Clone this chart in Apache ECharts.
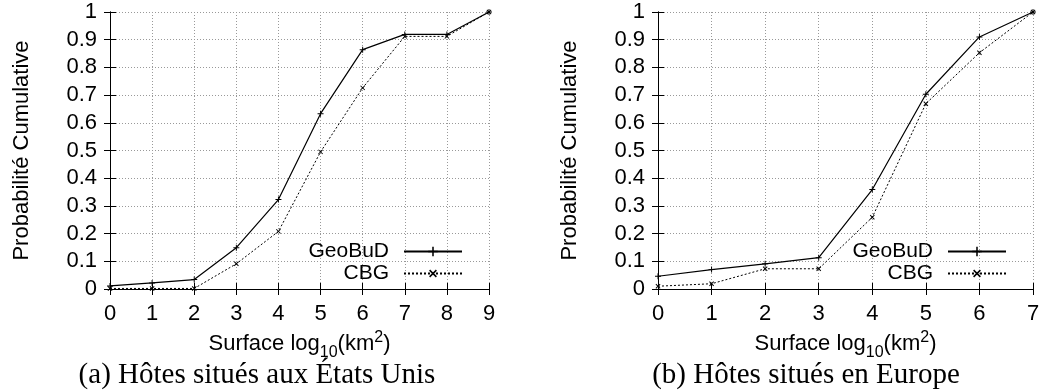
<!DOCTYPE html>
<html>
<head>
<meta charset="utf-8">
<script src="https://cdn.jsdelivr.net/npm/echarts@6/dist/echarts.min.js"></script>
<style>
  html, body { margin: 0; padding: 0; background: #fff; }
  #chart { width: 1049px; height: 392px; }
</style>
</head>
<body>
<div id="chart"></div>
<script>
// (a) USA
const xUS = [0, 1, 2, 3, 4, 5, 6, 7, 8, 9];
const geoUS = [0.011, 0.022, 0.034, 0.149, 0.323, 0.633, 0.864, 0.919, 0.919, 1];
const cbgUS = [0.002, 0.002, 0.002, 0.091, 0.208, 0.495, 0.726, 0.912, 0.912, 1];
// (b) Europe
const xEU = [0, 1, 2, 3, 4, 5, 6, 7];
const geoEU = [0.046, 0.070, 0.091, 0.113, 0.359, 0.703, 0.910, 1];
const cbgEU = [0.010, 0.019, 0.073, 0.073, 0.259, 0.669, 0.853, 1];

const yTicks = [0, 0.1, 0.2, 0.3, 0.4, 0.5, 0.6, 0.7, 0.8, 0.9, 1];
const captions = ["(a) Hôtes situés aux États Unis", "(b) Hôtes situés en Europe"];
const seriesNames = ["GeoBuD", "CBG"];

const FONT = "Liberation Sans";
const plusPath = "path://M0,4.2L10,4.2L10,5.8L0,5.8Z M4.2,0L5.8,0L5.8,10L4.2,10Z";

const myChart = echarts.init(document.getElementById("chart"));

const pairs = (xs, ys) => xs.map((x, i) => [x, ys[i]]);

const grids = [
  { left: 110, right: 560, top: 12, bottom: 103 },
  { left: 658, right: 16, top: 12, bottom: 103 },
];
const xMax = [xUS[xUS.length - 1], xEU[xEU.length - 1]];

const xAxes = [];
const yAxes = [];
grids.forEach((g, i) => {
  xAxes.push({
    type: "value",
    gridIndex: i,
    min: 0,
    max: xMax[i],
    interval: 1,
    name: "{n|Surface log}{sub|10}{n|(km}{sup|2}{n|)}",
    nameLocation: "middle",
    nameGap: 37,
    nameTextStyle: {
      rich: {
        n: { fontFamily: FONT, fontSize: 22, color: "#000", lineHeight: 34, verticalAlign: "middle" },
        sub: { fontFamily: FONT, fontSize: 16, color: "#000", verticalAlign: "bottom" },
        sup: { fontFamily: FONT, fontSize: 16, color: "#000", verticalAlign: "top", padding: [3, 0, 0, 0] },
      },
    },
    axisLine: { show: true, lineStyle: { color: "#000", width: 1 } },
    axisTick: { show: true, inside: true, length: 6, lineStyle: { color: "#000" } },
    axisLabel: { fontFamily: FONT, fontSize: 22, color: "#000", margin: 14 },
    splitLine: { show: true, lineStyle: { color: "#999", type: [1, 2], width: 1 } },
  });
  // mirrored top axis (ticks only)
  xAxes.push({
    type: "value",
    gridIndex: i,
    position: "top",
    min: 0,
    max: xMax[i],
    interval: 1,
    axisLine: { show: true, lineStyle: { color: "#000", width: 1 } },
    axisTick: { show: true, inside: true, length: 6, lineStyle: { color: "#000" } },
    axisLabel: { show: false },
    splitLine: { show: false },
  });
  yAxes.push({
    type: "value",
    gridIndex: i,
    min: 0,
    max: 1,
    interval: 0.1,
    name: "Probabilité Cumulative",
    nameLocation: "middle",
    nameRotate: 90,
    nameGap: 77,
    nameTextStyle: { fontFamily: FONT, fontSize: 22, color: "#000" },
    axisLine: { show: true, lineStyle: { color: "#000", width: 1 } },
    axisTick: { show: true, inside: true, length: 6, lineStyle: { color: "#000" } },
    axisLabel: {
      fontFamily: FONT,
      fontSize: 22,
      color: "#000",
      margin: 13,
      formatter: (v) => String(yTicks.find((t) => Math.abs(t - v) < 1e-6) ?? v),
    },
    splitLine: { show: true, lineStyle: { color: "#999", type: [1, 2], width: 1 } },
  });
  yAxes.push({
    type: "value",
    gridIndex: i,
    position: "right",
    min: 0,
    max: 1,
    interval: 0.1,
    axisLine: { show: true, lineStyle: { color: "#000", width: 1 } },
    axisTick: { show: true, inside: true, length: 6, lineStyle: { color: "#000" } },
    axisLabel: { show: false },
    splitLine: { show: false },
  });
});

const makeSeries = (name, data, axisIdx, dotted) => ({
  name: name,
  type: "line",
  xAxisIndex: axisIdx * 2,
  yAxisIndex: axisIdx * 2,
  data: data,
  symbol: plusPath,
  symbolSize: 6,
  symbolRotate: dotted ? 45 : 0,
  showSymbol: true,
  color: "#000",
  itemStyle: { color: "#000" },
  lineStyle: { color: "#000", width: dotted ? 1 : 1.2, type: dotted ? [2, 2] : "solid" },
  animation: false,
});

const series = [
  makeSeries(seriesNames[0], pairs(xUS, geoUS), 0, false),
  makeSeries(seriesNames[1], pairs(xUS, cbgUS), 0, true),
  makeSeries(seriesNames[0], pairs(xEU, geoEU), 1, false),
  makeSeries(seriesNames[1], pairs(xEU, cbgEU), 1, true),
];

const legendBase = {
  orient: "vertical",
  align: "right",
  top: 241,
  padding: 0,
  itemWidth: 58,
  itemHeight: 12,
  itemGap: 1,
  selectedMode: false,
  data: seriesNames,
  textStyle: { fontFamily: FONT, fontSize: 21, color: "#000", lineHeight: 21, padding: [0, 10, 0, 0] },
};

const captionText = (text, x) => ({
  type: "text",
  x: x,
  y: 375,
  style: {
    text: text,
    fontFamily: "Liberation Serif",
    fontSize: 29,
    fill: "#000",
    textAlign: "center",
    textVerticalAlign: "middle",
  },
});

const options = {
  animation: false,
  grid: grids,
  xAxis: xAxes,
  yAxis: yAxes,
  legend: [
    Object.assign({}, legendBase, { right: 586 }),
    Object.assign({}, legendBase, { right: 42 }),
  ],
  graphic: [captionText(captions[0], 257), captionText(captions[1], 806)],
  series: series,
};
myChart.setOption(options);
</script>
</body>
</html>
